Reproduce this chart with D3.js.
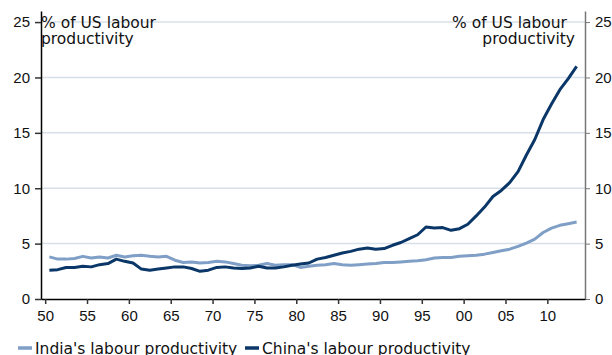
<!DOCTYPE html>
<html>
<head>
<meta charset="utf-8">
<script src="https://cdn.jsdelivr.net/npm/d3@7"></script>
<style>
  html, body { margin: 0; padding: 0; background: #fff; }
  svg { display: block; font-family: "DejaVu Sans", Verdana, sans-serif; }
</style>
</head>
<body>
<svg id="chart" width="612" height="355"></svg>
<script>
// Labour productivity relative to the US (%), annual, 1950–2013
const years = d3.range(1950, 2014);
const india = [
  3.8, 3.6, 3.6, 3.65, 3.85, 3.7, 3.8, 3.7, 3.95, 3.8,
  3.9, 3.95, 3.85, 3.8, 3.85, 3.5, 3.3, 3.35, 3.25, 3.3,
  3.4, 3.35, 3.2, 3.05, 3.0, 3.05, 3.2, 3.05, 3.1, 3.1,
  2.85, 2.95, 3.05, 3.1, 3.2, 3.1, 3.05, 3.1, 3.15, 3.2,
  3.3, 3.3, 3.35, 3.4, 3.45, 3.55, 3.7, 3.75, 3.75, 3.85,
  3.9, 3.95, 4.05, 4.2, 4.35, 4.5, 4.75, 5.05, 5.4, 6.0,
  6.4, 6.65, 6.8, 6.95
];
const china = [
  2.6, 2.65, 2.85, 2.85, 2.95, 2.9, 3.1, 3.2, 3.6, 3.4,
  3.25, 2.7, 2.6, 2.7, 2.8, 2.9, 2.9, 2.75, 2.5, 2.6,
  2.85, 2.9, 2.8, 2.75, 2.8, 2.95, 2.8, 2.8, 2.9, 3.05,
  3.15, 3.25, 3.6, 3.75, 3.95, 4.15, 4.3, 4.5, 4.6, 4.5,
  4.55, 4.85, 5.1, 5.45, 5.8, 6.5, 6.4, 6.45, 6.2, 6.35,
  6.75, 7.5, 8.3, 9.25, 9.8, 10.5, 11.5, 13.0, 14.4, 16.2,
  17.6, 18.9, 19.9, 21.0
];
const xTicks = d3.range(1950, 2011, 5);
const yTicks = [0, 5, 10, 15, 20, 25];
const seriesNames = ["India's labour productivity", "China's labour productivity"];
const seriesColors = ["#7f9fc7", "#0a3768"];
const unitLabel = ["% of US labour", "productivity"];

const svg = d3.select("#chart");
const plotLeft = 41, plotRight = 585, plotTop = 11, plotBottom = 299;

const x = d3.scaleLinear().domain([1949.5, 2014.5]).range([plotLeft, plotRight]);
const y = d3.scaleLinear().domain([0, 26]).range([plotBottom, plotTop]);

// horizontal gridlines
svg.append("g")
  .selectAll("line")
  .data(yTicks.filter(d => d > 0))
  .join("line")
  .attr("x1", plotLeft).attr("x2", plotRight)
  .attr("y1", d => y(d)).attr("y2", d => y(d))
  .attr("stroke", "#d7e0e9").attr("stroke-width", 1.5);

// left axis
const yLeft = svg.append("g").attr("transform", `translate(${plotLeft},0)`)
  .call(d3.axisLeft(y).tickValues(yTicks).tickSize(6).tickPadding(5).tickSizeOuter(0));
yLeft.select(".domain").attr("stroke", "#000").attr("stroke-width", 1.5);
yLeft.selectAll(".tick line").attr("stroke", "#333").attr("stroke-width", 1.5);
yLeft.selectAll("text").attr("font-size", 15).attr("fill", "#111");

// right axis
const yRight = svg.append("g").attr("transform", `translate(${plotRight},0)`)
  .call(d3.axisRight(y).tickValues(yTicks).tickSize(5).tickPadding(5).tickSizeOuter(0));
yRight.select(".domain").attr("stroke", "#777").attr("stroke-width", 1.5);
yRight.selectAll(".tick line").attr("stroke", "#777").attr("stroke-width", 1);
yRight.selectAll("text").attr("font-size", 15).attr("fill", "#111");

// bottom axis
const xAxis = svg.append("g").attr("transform", `translate(0,${plotBottom})`)
  .call(d3.axisBottom(x).tickValues(xTicks).tickSize(5).tickPadding(6).tickSizeOuter(0)
    .tickFormat(d => String(d % 100).padStart(2, "0")));
xAxis.select(".domain").attr("stroke", "#000").attr("stroke-width", 1.5);
xAxis.selectAll(".tick line").attr("stroke", "#333").attr("stroke-width", 1.5);
xAxis.selectAll("text").attr("font-size", 15).attr("fill", "#111");

// lines, each annual value plotted at mid-year
const line = d3.line()
  .x((d, i) => x(years[i] + 0.5))
  .y(d => y(d))
  .curve(d3.curveLinear);

[india, china].forEach((s, k) => {
  svg.append("path")
    .datum(s)
    .attr("fill", "none")
    .attr("stroke", seriesColors[k])
    .attr("stroke-width", 3)
    .attr("stroke-linejoin", "round")
    .attr("stroke-linecap", "butt")
    .attr("d", line);
});

// unit labels
const ul = svg.append("text").attr("x", plotLeft).attr("y", 27.5)
  .attr("font-size", 15.5).attr("fill", "#111");
unitLabel.forEach((t, i) => ul.append("tspan").attr("x", plotLeft).attr("dy", i ? 16.5 : 0).text(t));
const ur = svg.append("text").attr("y", 27.5)
  .attr("font-size", 15.5).attr("fill", "#111").attr("text-anchor", "end");
const urX = [567, 575];
unitLabel.forEach((t, i) => ur.append("tspan").attr("x", urX[i]).attr("dy", i ? 16.5 : 0).text(t));

// legend
const legendX = [18, 245];
const lg = svg.append("g");
seriesNames.forEach((name, k) => {
  lg.append("line")
    .attr("x1", legendX[k]).attr("x2", legendX[k] + 14)
    .attr("y1", 348).attr("y2", 348)
    .attr("stroke", seriesColors[k]).attr("stroke-width", 3.5);
  lg.append("text")
    .attr("x", legendX[k] + 17).attr("y", 354)
    .attr("font-size", 15.5).attr("fill", "#111")
    .text(name);
});
</script>
</body>
</html>
